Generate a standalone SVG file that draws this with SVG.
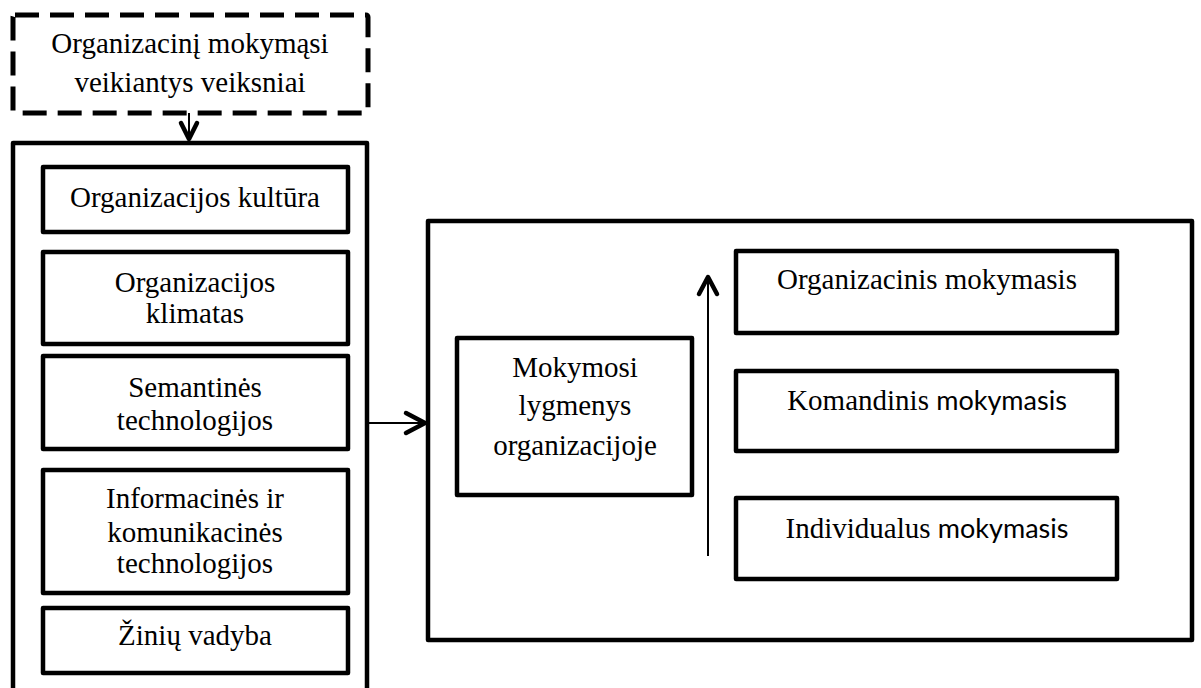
<svg xmlns="http://www.w3.org/2000/svg" width="1201" height="688" viewBox="0 0 1201 688">
<style>
.box{fill:#fff;stroke:#000;stroke-width:4.5;stroke-linejoin:round}
.dash{fill:none;stroke:#000;stroke-width:5;stroke-dasharray:24 11}
.t{font-family:"Liberation Serif","Times New Roman",serif;font-size:29px;fill:#000;text-anchor:middle}
.s{font-family:Lato,"Liberation Sans",sans-serif;font-size:27px}
.ln{stroke:#000;stroke-width:2;fill:none}
.hd{stroke:#000;stroke-width:4.5;fill:none;stroke-linecap:round;stroke-linejoin:round}
</style>
<rect width="1201" height="688" fill="#fff"/>
<g id="factors-header">
<rect class="dash" x="13" y="15" width="355" height="98" rx="2"/>
<text class="t" x="190" y="53">Organizacinį mokymąsi</text>
<text class="t" x="190" y="92">veikiantys veiksniai</text>
</g>
<g id="factors-container">
<rect class="box" x="13" y="143" width="354" height="560"/>
</g>
<g id="culture">
<rect class="box" x="43" y="167" width="305" height="65"/>
<text class="t" x="195" y="207">Organizacijos kultūra</text>
</g>
<g id="climate">
<rect class="box" x="43" y="252" width="305" height="92"/>
<text class="t" x="195" y="292">Organizacijos</text>
<text class="t" x="195" y="323">klimatas</text>
</g>
<g id="semantic">
<rect class="box" x="43" y="356" width="305" height="93"/>
<text class="t" x="195" y="397">Semantinės</text>
<text class="t" x="195" y="430">technologijos</text>
</g>
<g id="ict">
<rect class="box" x="43" y="470" width="305" height="123"/>
<text class="t" x="195" y="508">Informacinės ir</text>
<text class="t" x="195" y="542">komunikacinės</text>
<text class="t" x="195" y="573">technologijos</text>
</g>
<g id="knowledge">
<rect class="box" x="43" y="608" width="305" height="65"/>
<text class="t" x="195" y="645">Žinių vadyba</text>
</g>
<g id="levels-container">
<rect class="box" x="428" y="221" width="764" height="419"/>
</g>
<g id="levels">
<rect class="box" x="457" y="338" width="235" height="157"/>
<text class="t" x="575" y="377">Mokymosi</text>
<text class="t" x="575" y="415">lygmenys</text>
<text class="t" x="575" y="455">organizacijoje</text>
</g>
<g id="org-learning">
<rect class="box" x="736" y="251" width="381" height="82"/>
<text class="t" x="927" y="289">Organizacinis mokymasis</text>
</g>
<g id="team-learning">
<rect class="box" x="736" y="371" width="381" height="80"/>
<text class="t" x="927" y="410">Komandinis <tspan class="s">mokymasis</tspan></text>
</g>
<g id="individual-learning">
<rect class="box" x="736" y="498" width="381" height="81"/>
<text class="t" x="927" y="538">Individualus <tspan class="s">mokymasis</tspan></text>
</g>
<g id="connectors">
<line class="ln" x1="189" y1="113" x2="189" y2="140"/>
<polyline class="hd" points="181,123 189,139 197,123"/>
<line class="ln" x1="367" y1="423" x2="425" y2="423"/>
<polyline class="hd" points="406,413 425,423 406,433"/>
<line class="ln" x1="708" y1="556" x2="708" y2="277"/>
<polyline class="hd" points="699,294 708,277 717,294"/>
</g>
</svg>
